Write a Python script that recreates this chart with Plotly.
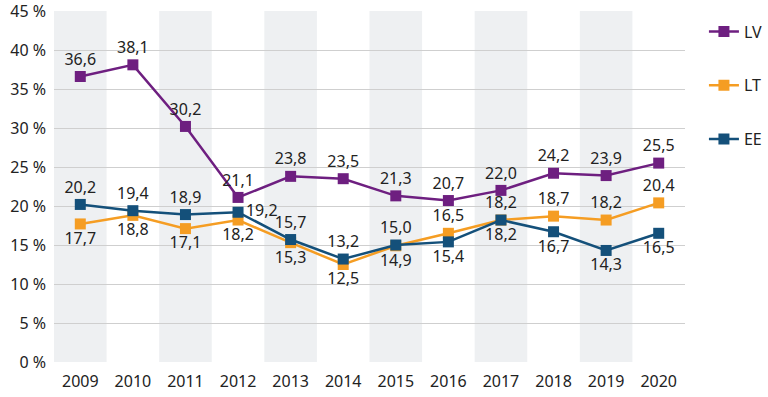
import plotly.graph_objects as go

years = [2009, 2010, 2011, 2012, 2013, 2014, 2015, 2016, 2017, 2018, 2019, 2020]
lv = [36.6, 38.1, 30.2, 21.1, 23.8, 23.5, 21.3, 20.7, 22.0, 24.2, 23.9, 25.5]
lt = [17.7, 18.8, 17.1, 18.2, 15.3, 12.5, 14.9, 16.5, 18.2, 18.7, 18.2, 20.4]
ee = [20.2, 19.4, 18.9, 19.2, 15.7, 13.2, 15.0, 15.4, 18.2, 16.7, 14.3, 16.5]
y_ticks = [0, 5, 10, 15, 20, 25, 30, 35, 40, 45]

lv_pos = ["top center"] * 12
lt_pos = ["bottom center"] * 7 + ["top center"] * 5
ee_pos = ["top center"] * 3 + ["middle right"] + ["top center"] * 3 + ["bottom center"] * 5

FONT = "Noto Sans"

def fmt(v):
    return f"{v:.1f}".replace(".", ",")

fig = go.Figure()
series = [("LV", lv, "#6e1f80", lv_pos), ("LT", lt, "#f59d23", lt_pos), ("EE", ee, "#14507a", ee_pos)]
for name, vals, col, pos in series:
    fig.add_trace(go.Scatter(
        x=years, y=vals, name=name, mode="lines+markers+text",
        line=dict(color=col, width=2.5),
        marker=dict(symbol="square", size=11, color=col),
        text=[fmt(v) for v in vals], textposition=pos,
        textfont=dict(size=16, color="#222222", family=FONT),
        legendgroup=name, cliponaxis=False,
    ))

for i, yr in enumerate(years):
    if i % 2 == 0:
        fig.add_shape(type="rect", xref="x", yref="y", x0=yr - 0.5, x1=yr + 0.5,
                      y0=0, y1=45, fillcolor="#eef0f2", line=dict(width=0), layer="below")

fig.update_layout(
    width=768, height=397,
    margin=dict(l=54, r=83, t=11, b=35, autoexpand=False),
    plot_bgcolor="white", paper_bgcolor="white",
    font=dict(family=FONT, size=16, color="#222222"),
    showlegend=True,
    legend=dict(x=1.03, y=0.99, xanchor="left", yanchor="top",
                traceorder="grouped", tracegroupgap=30,
                font=dict(size=16, color="#222222", family=FONT), itemwidth=30),
    xaxis=dict(range=[2008.5, 2020.5], tickmode="array", tickvals=years,
               ticktext=[str(y) for y in years], showgrid=False, zeroline=False,
               showline=False, ticks="", tickfont=dict(size=16), automargin=False,
               ticklabelstandoff=8, ticklabeloverflow="allow"),
    yaxis=dict(range=[0, 45], tickmode="array", tickvals=y_ticks,
               ticktext=[f"{t} %" for t in y_ticks], showgrid=True,
               gridcolor="#cfcfcf", gridwidth=1, zeroline=False, ticks="",
               tickfont=dict(size=16), automargin=False,
               ticklabelstandoff=7, ticklabeloverflow="allow"),
)

fig.write_html("out.html", config={"displayModeBar": False},
               post_script="document.body.style.margin='0';")
